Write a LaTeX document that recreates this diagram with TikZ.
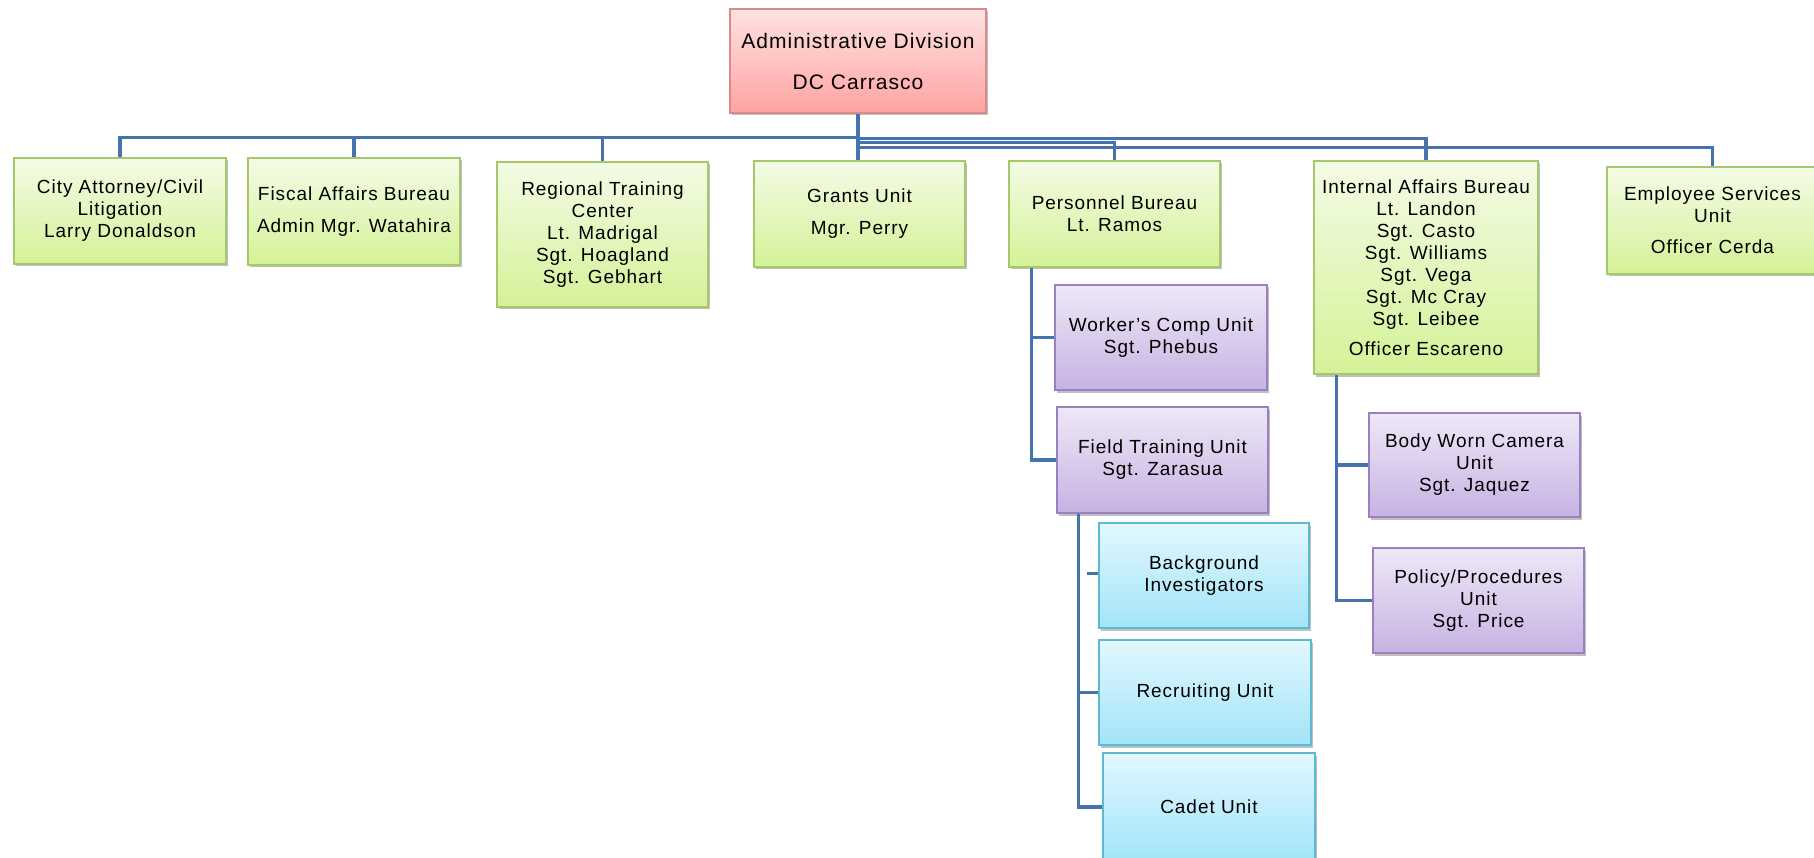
\documentclass[tikz,border=0pt]{standalone}
\usepackage{fontspec}
\setmainfont{Liberation Sans}[LetterSpace=5]
\usetikzlibrary{shadows}
\definecolor{lc}{HTML}{4473AE}
\definecolor{gbord}{HTML}{A5C86B}
\definecolor{gtop}{HTML}{F4FBE6}
\definecolor{gbot}{HTML}{D4F297}
\definecolor{pbord}{HTML}{9A80BE}
\definecolor{ptop}{HTML}{EEE8F7}
\definecolor{pbot}{HTML}{C7B2E2}
\definecolor{cbord}{HTML}{5DB9D2}
\definecolor{ctop}{HTML}{E2F8FE}
\definecolor{cbot}{HTML}{A2E4F8}
\definecolor{rbord}{HTML}{D98A8A}
\definecolor{rtop}{HTML}{FFE2E2}
\definecolor{rbot}{HTML}{FFA2A2}
\newcommand\boxfont{\fontsize{19}{22}\selectfont}
\newcommand\rootfont{\fontsize{21}{24}\selectfont}
\tikzset{
  basebox/.style={rectangle, draw, line width=1.6pt, inner sep=0pt, align=center,
    font=\boxfont, text=black,
    drop shadow={shadow xshift=1.5pt, shadow yshift=-2.5pt, fill=black!50, opacity=.5}},
  gbox/.style={basebox, draw=gbord, top color=gtop, bottom color=gbot},
  pbox/.style={basebox, draw=pbord, top color=ptop, bottom color=pbot},
  cbox/.style={basebox, draw=cbord, top color=ctop, bottom color=cbot},
  rbox/.style={basebox, draw=rbord, top color=rtop, bottom color=rbot, font=\rootfont},
  link/.style={draw=lc, line width=3.4pt},
}
\begin{document}
\begin{tikzpicture}[x=1pt, y=-1pt]
\useasboundingbox (0,0) rectangle (1814,858);
\fill[white] (0,0) rectangle (1814,858);

% nodes
\node[rbox, minimum width=256pt, minimum height=104pt] (root) at (858,61)
  {Administrative Division\\[17pt]DC Carrasco};

\node[gbox, minimum width=212pt, minimum height=106pt] (city) at (120,211)
  {City Attorney/Civil\\Litigation\\Larry Donaldson};
\node[gbox, minimum width=212pt, minimum height=107pt] (fiscal) at (354,211.5)
  {Fiscal Affairs Bureau\\[10pt]Admin Mgr. Watahira};
\node[gbox, minimum width=211pt, minimum height=145pt] (regional) at (602.5,234.5)
  {Regional Training\\Center\\Lt. Madrigal\\Sgt. Hoagland\\Sgt. Gebhart};
\node[gbox, minimum width=211pt, minimum height=106pt] (grants) at (859.5,214)
  {Grants Unit\\[10pt]Mgr. Perry};
\node[gbox, minimum width=211pt, minimum height=106pt] (personnel) at (1114.5,214)
  {Personnel Bureau\\Lt. Ramos};
\node[gbox, minimum width=224pt, minimum height=213pt] (internal) at (1426,267.5)
  {Internal Affairs Bureau\\Lt. Landon\\Sgt. Casto\\Sgt. Williams\\Sgt. Vega\\Sgt. Mc Cray\\Sgt. Leibee\\[8pt]Officer Escareno};
\node[gbox, minimum width=211pt, minimum height=107pt] (employee) at (1712.5,220.5)
  {Employee Services\\Unit\\[9pt]Officer Cerda};

\node[pbox, minimum width=212pt, minimum height=105pt] (workers) at (1161,337.5)
  {Worker's Comp Unit\\Sgt. Phebus};
\node[pbox, minimum width=211pt, minimum height=106pt] (field) at (1162.5,460)
  {Field Training Unit\\Sgt. Zarasua};
\node[cbox, minimum width=210pt, minimum height=105pt] (bg) at (1204,575.5)
  {Background\\Investigators};
\node[cbox, minimum width=212pt, minimum height=105pt] (recruit) at (1205,692.5)
  {Recruiting Unit};
\node[cbox, minimum width=212pt, minimum height=108pt] (cadet) at (1209,807)
  {Cadet Unit};
\node[pbox, minimum width=211pt, minimum height=104pt] (body) at (1474.5,465)
  {Body Worn Camera\\Unit\\Sgt. Jaquez};
\node[pbox, minimum width=211pt, minimum height=105pt] (policy) at (1478.5,600.5)
  {Policy/Procedures\\Unit\\Sgt. Price};

% connectors from root
\draw[link] (root.south) -- ++(0,24) -| (city.north);
\draw[link] (root.south) -- ++(0,24) -| (fiscal.north);
\draw[link] (root.south) -- ++(0,24) -| (regional.north);
\draw[link] (root.south) -- (root.south |- grants.north);
\draw[link] (root.south) -- ++(0,29) -| (personnel.north);
\draw[link] (root.south) -- ++(0,25) -| (internal.north);
\draw[link] (root.south) -- ++(0,34) -| (employee.north);

% personnel sub-units
\draw[link] ([xshift=23pt]personnel.south west) |- (workers.west);
\draw[link] ([xshift=23pt]personnel.south west) |- (field.west);

% field training sub-units
\draw[link] ([xshift=22pt]field.south west) |- (recruit.west);
\draw[link] ([xshift=22pt]field.south west) |- (cadet.west);
\draw[link] ([yshift=2pt]bg.west) -- ++(-11,0);

% internal affairs sub-units
\draw[link] ([xshift=23pt]internal.south west) |- (body.west);
\draw[link] ([xshift=23pt]internal.south west) |- (policy.west);
\end{tikzpicture}
\end{document}
